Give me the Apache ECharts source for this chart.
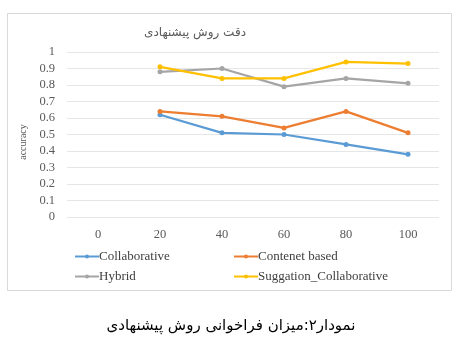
<!DOCTYPE html>
<html><head><meta charset="utf-8">
<script src="https://cdn.jsdelivr.net/npm/echarts@6/dist/echarts.min.js"></script>
<style>html,body{margin:0;padding:0;background:#fff}#c{width:462px;height:356px}</style>
</head><body><div id="c"></div>
<script>
const categories = ['0','20','40','60','80','100'];
const collaborative = [null, 0.62, 0.51, 0.50, 0.44, 0.38];
const contentBased = [null, 0.64, 0.61, 0.54, 0.64, 0.51];
const hybrid = [null, 0.88, 0.90, 0.79, 0.84, 0.81];
const suggation = [null, 0.91, 0.84, 0.84, 0.94, 0.93];
const names = ['Collaborative','Contenet based','Hybrid','Suggation_Collaborative'];
const colors = ['#5B9BD5','#ED7D31','#A5A5A5','#FFC000'];
const serif = 'Liberation Serif';
const chart = echarts.init(document.getElementById('c'));
function mk(name, data, color){
  return {name, type:'line', data, color, symbol:'circle', symbolSize:5,
    lineStyle:{width:2.2,color}, itemStyle:{color}, connectNulls:false, animation:false};
}
const legendCommon = {orient:'vertical', itemWidth:24, itemHeight:5, itemGap:7,
  textStyle:{fontFamily:serif, fontSize:13, color:'#404040', padding:[0,0,0,-5]}};
chart.setOption({
  animation:false,
  graphic:[
    {type:'rect', shape:{x:7.5,y:13.5,width:444,height:277}, style:{fill:'none',stroke:'#d9d9d9',lineWidth:1}},
    {type:'text', left:'center', top:319, style:{text:'نمودار۲:میزان فراخوانی روش پیشنهادی', font:'15px "DejaVu Sans"', fill:'#000'}},
    {type:'text', x:195, y:33, style:{text:'دقت روش پیشنهادی', font:'12px "DejaVu Sans"', fill:'#595959', align:'center', verticalAlign:'middle'}},
    {type:'text', x:23, y:142, rotation:Math.PI/2, style:{text:'accuracy', font:'10px "Liberation Serif"', fill:'#595959', align:'center', verticalAlign:'middle'}}
  ],
  grid:{left:67, right:23, top:52, bottom:139},
  legend:[
    Object.assign({data:[names[0],names[2]], left:69, top:245}, legendCommon),
    Object.assign({data:[names[1],names[3]], left:228, top:245}, legendCommon)
  ],
  xAxis:{type:'category', data:categories, boundaryGap:true,
    axisLine:{show:false}, axisTick:{show:false},
    axisLabel:{fontFamily:serif, fontSize:12.5, color:'#595959', margin:11}},
  yAxis:{type:'value', min:0, max:1, interval:0.1,
    axisLabel:{fontFamily:serif, fontSize:12.5, color:'#595959', formatter:v=>String(Math.round(v*10)/10), margin:12},
    splitLine:{lineStyle:{color:'#e6e6e6'}}},
  series:[mk(names[0],collaborative,colors[0]), mk(names[1],contentBased,colors[1]), mk(names[2],hybrid,colors[2]), mk(names[3],suggation,colors[3])]
});
</script></body></html>
